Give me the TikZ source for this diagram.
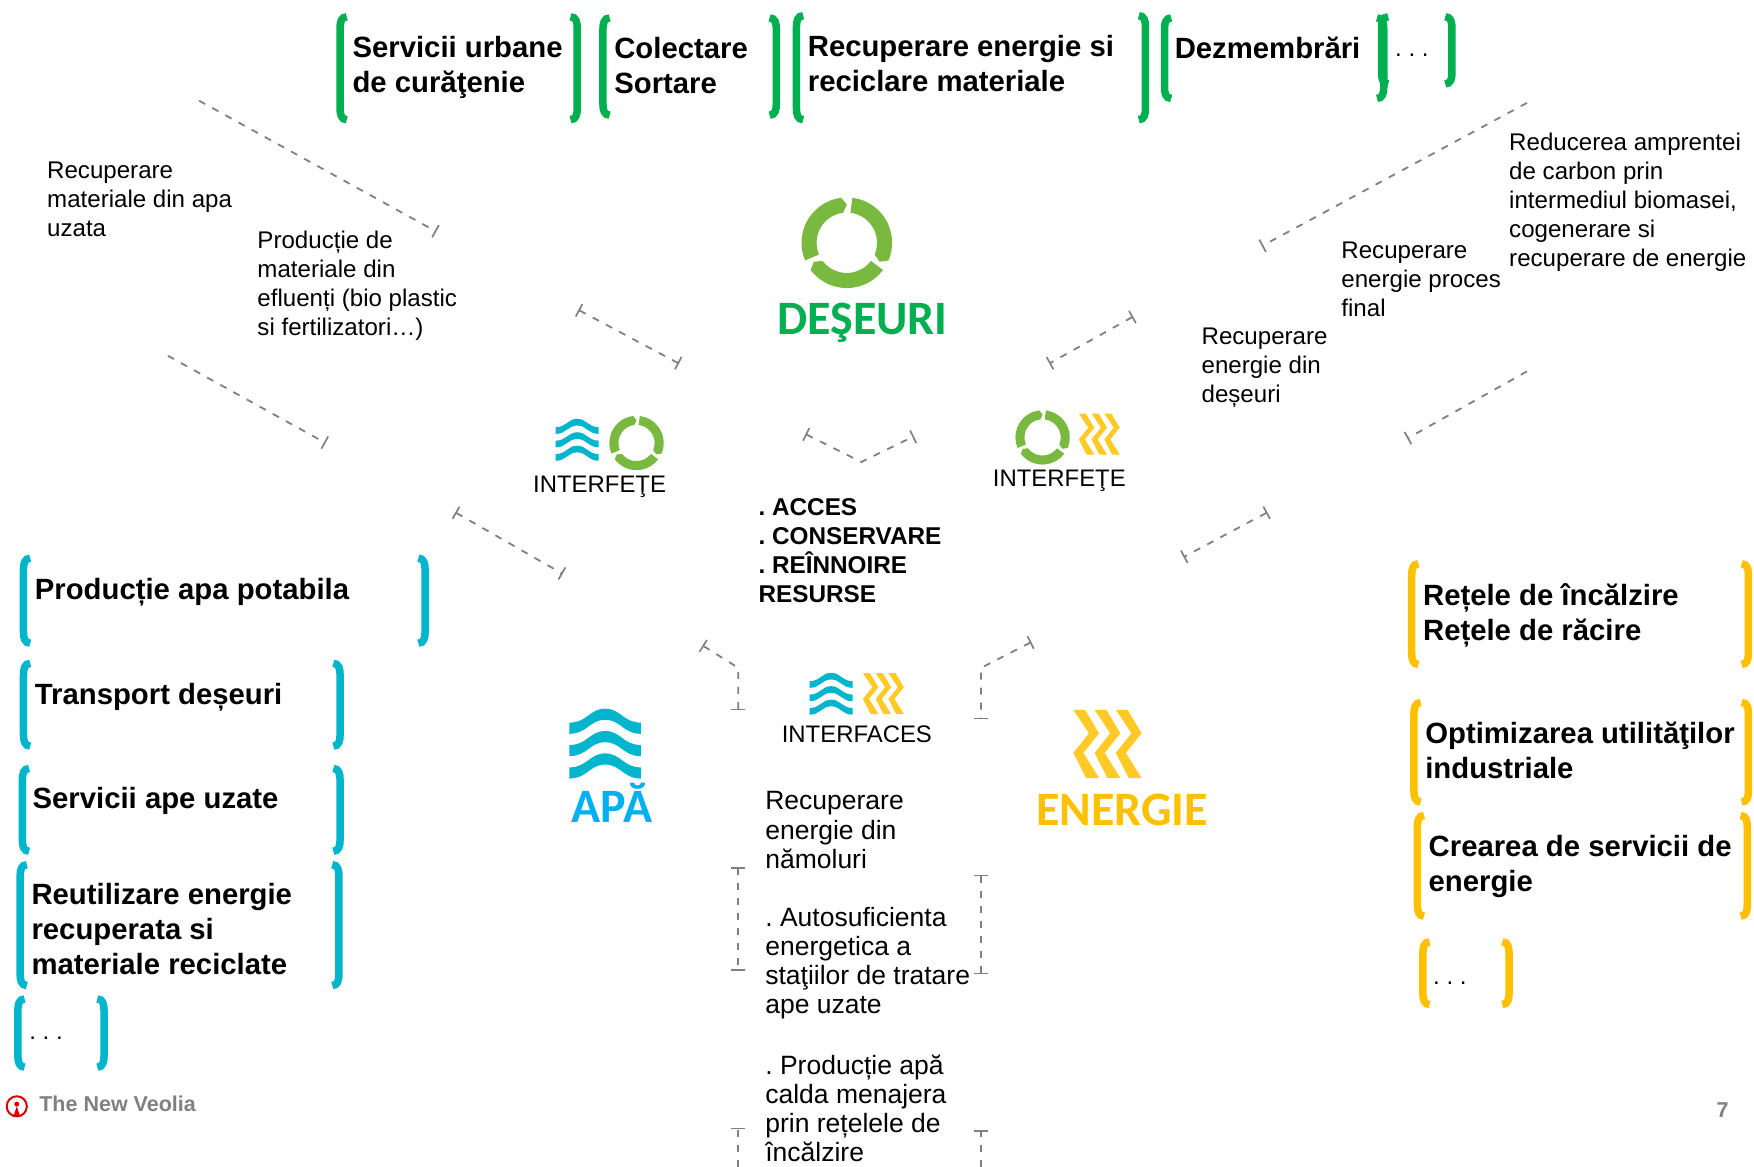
\documentclass[tikz,border=0pt]{standalone}
\usepackage{fontspec}
\setmainfont{Liberation Sans}
\newfontfamily\logofont{Carlito}
\usepackage{xcolor}
\usepackage{tikz}
\usetikzlibrary{arrows.meta, positioning}

\definecolor{deseugreen}{HTML}{00B050}
\definecolor{leafgreen}{HTML}{7AB93F}
\definecolor{waterteal}{HTML}{00B5CC}
\definecolor{waterblue}{HTML}{00B0F0}
\definecolor{energyyellow}{HTML}{FFC000}
\definecolor{chevronyellow}{HTML}{FFC926}

\tikzset{
    recycle/.pic={
        \begin{scope}[x=1.1186pt, y=1.1186pt]
            \foreach \a in {0,120,240} {
                \fill[leafgreen, rotate=\a] (97:40.5) arc (97:203:40.5) -- (203:27) arc (203:97:27) -- (90:34) -- cycle;
            }
        \end{scope}
    },
    waves/.pic={
        \begin{scope}[x=1.1186pt, y=1.1186pt]
            \foreach \o in {18.5,-1.5,-21.5} {
                \fill[waterteal] (-32,\o) .. controls (-16,\o) and (-14,\o+12.5) .. (0,\o+12.5) .. controls (14,\o+12.5) and (16,\o) .. (32,\o) -- (32,\o-10) .. controls (16,\o-10) and (14,\o+2.5) .. (0,\o+2.5) .. controls (-14,\o+2.5) and (-16,\o-10) .. (-32,\o-10) -- cycle;
            }
        \end{scope}
    },
    chevrons/.pic={
        \begin{scope}[x=1.1186pt, y=1.1186pt]
            \foreach \c in {-31,-12,7} {
                \fill[chevronyellow] (\c,30.5) -- (\c+10.5,30.5) -- (\c+23,9.5) -- (\c+9,-8) -- (\c+23,-30.5) -- (\c+11.5,-30.5) -- (\c,-8) -- (\c+14,9.5) -- cycle;
            }
        \end{scope}
    }
}

% colour, left x, top y, right x, bottom y
\newcommand{\bracketpair}[5]{
    \draw[bracket, #1] ({#2+10},{#3+3}) .. controls ({#2+5},{#3+3}) and ({#2+4},{#3+8}) .. ({#2+4},{#3+13}) -- ({#2+4},{#5-13}) .. controls ({#2+4},{#5-8}) and ({#2+5},{#5-3}) .. ({#2+10},{#5-3});
    \draw[bracket, #1] ({#4-10},{#3+3}) .. controls ({#4-5},{#3+3}) and ({#4-4},{#3+8}) .. ({#4-4},{#3+13}) -- ({#4-4},{#5-13}) .. controls ({#4-4},{#5-8}) and ({#4-5},{#5-3}) .. ({#4-10},{#5-3});
}

\frenchspacing
\begin{document}
\begin{tikzpicture}[
    x=1.1186pt, y=-1.1186pt,
    bracket/.style={line width=7.5pt},
    head/.style={anchor=west, inner sep=0pt, align=left, font=\fontsize{29.3}{34.7}\selectfont\bfseries},
    plain/.style={anchor=west, inner sep=0pt, align=left, font=\fontsize{24.1}{29}\selectfont},
    middle/.style={anchor=west, inner sep=0pt, align=left, font=\fontsize{26.5}{29.1}\selectfont},
    iface/.style={inner sep=0pt, font=\fontsize{23.9}{29}\selectfont},
    logo/.style={inner sep=0pt, font=\fontsize{48}{52}\selectfont\logofont\bfseries},
    link/.style={dash pattern=on 7pt off 8pt, draw=gray, line width=1.8pt},
    both/.style={link, {Bar[width=14pt, line width=1.7pt]}-{Bar[width=14pt, line width=1.7pt]}},
    onecap/.style={link, -{Bar[width=14pt, line width=1.7pt]}}
]
    \useasboundingbox (0,0) rectangle (1568,1043);

    % Top row
    \bracketpair{deseugreen}{300}{12}{520}{110}
    \bracketpair{deseugreen}{535}{13}{698}{106}
    \bracketpair{deseugreen}{708}{11}{1028}{110}
    \bracketpair{deseugreen}{1037}{13}{1241}{91}
    \bracketpair{deseugreen}{1231}{12}{1302}{78}
    \node[head] (urbane) at (315, 60.5) {Servicii urbane\\de curăţenie};
    \node[head] (colectare) at (549, 58.5) {Colectare\\Sortare};
    \node[head] (recuperare) at (722, 56.5) {Recuperare energie si\\reciclare materiale};
    \node[head] (dezmembrari) at (1050, 43) {Dezmembrări};
    \node[plain] (topdots) at (1247, 49.5) {. . .};

    % Left column
    \bracketpair{waterteal}{17}{496}{384}{578}
    \bracketpair{waterteal}{17}{590}{308}{670}
    \bracketpair{waterteal}{16}{684}{308}{764}
    \bracketpair{waterteal}{14}{770}{307}{884}
    \bracketpair{waterteal}{12}{890}{97}{957}
    \node[head] (potabila) at (31, 529.5) {Producție apa potabila};
    \node[head] (transport) at (31, 623) {Transport deșeuri};
    \node[head] (uzate) at (29, 716) {Servicii ape uzate};
    \node[head] (reutilizare) at (28, 830.5) {Reutilizare energie\\recuperata si\\materiale reciclate};
    \node[plain] (leftdots) at (26, 928) {. . .};

    % Right column
    \bracketpair{energyyellow}{1258}{501}{1567}{597}
    \bracketpair{energyyellow}{1260}{625}{1567}{720}
    \bracketpair{energyyellow}{1263}{726}{1566}{822}
    \bracketpair{energyyellow}{1268}{839}{1353}{901}
    \node[head] (retele) at (1272, 550) {Rețele de încălzire\\Rețele de răcire};
    \node[head] (optimizarea) at (1274, 670.5) {Optimizarea utilităţilor\\industriale};
    \node[head] (crearea) at (1277, 774.5) {Crearea de servicii de\\energie};
    \node[plain] (rightdots) at (1281, 878.5) {. . .};

    % Free text
    \node[plain] (apauzata) at (42, 178) {Recuperare\\materiale din apa\\uzata};
    \node[plain] (efluenti) at (230, 255.5) {Producție de\\materiale din\\efluenți (bio plastic\\si fertilizatori…)};
    \node[plain] (carbon) at (1349, 181) {Reducerea amprentei\\de carbon prin\\intermediul biomasei,\\cogenerare si\\recuperare de energie};
    \node[plain] (proces) at (1199, 250) {Recuperare\\energie proces\\final};
    \node[plain] (dindeseuri) at (1074, 329) {Recuperare\\energie din\\deșeuri};
    \node[middle] (namoluri) at (684, 742) {Recuperare\\energie din\\nămoluri};
    \node[middle] (autosuf) at (684, 861) {. Autosuficienta\\energetica a\\staţiilor de tratare\\ape uzate};
    \node[middle] (menajera) at (684, 990.5) {. Producție apă\\calda menajera\\prin rețelele de\\încălzire};
    \node[head, font=\fontsize{24.3}{29.1}\selectfont\bfseries] (acces) at (678, 492) {. ACCES\\. CONSERVARE\\. REÎNNOIRE\\RESURSE};

    % Icons and titles
    \pic at (757, 217) {recycle};
    \node[logo, text=deseugreen] (deseuri) at (771, 289) {DEŞEURI};
    \pic at (541, 664.5) {waves};
    \node[logo, text=waterblue] (apa) at (547, 718) {APĂ};
    \pic at (990.5, 665) {chevrons};
    \node[logo, text=energyyellow] (energie) at (1003, 724) {ENERGIE};

    % Interfaces
    \pic[scale=0.6] at (516, 393) {waves};
    \pic[scale=0.6] at (569, 396) {recycle};
    \node[iface] (ifleft) at (536, 435) {INTERFEŢE};
    \pic[scale=0.6] at (932, 391) {recycle};
    \pic[scale=0.6] at (983, 388) {chevrons};
    \node[iface] (ifright) at (947, 430) {INTERFEŢE};
    \pic[scale=0.6] at (743, 620) {waves};
    \pic[scale=0.6] at (790, 620) {chevrons};
    \node[iface] (ifbottom) at (766, 656) {INTERFACES};

    % Footer
    \node[anchor=west, inner sep=0pt, text=gray, font=\fontsize{21.5}{25}\selectfont\bfseries] (veolia) at (35, 987) {The New Veolia};
    \node[inner sep=0pt, text=gray, font=\fontsize{21.5}{25}\selectfont\bfseries] (pagenum) at (1540, 992) {7};
    \draw[red!85!black, line width=2pt] (15, 989) circle (9);
    \fill[red!85!black] (15, 987) circle (2.2);
    \fill[red!85!black] (15, 989) -- (12, 998) -- (18, 998) -- cycle;

    % Link ends
    \coordinate (tl1a) at (178, 90);    \coordinate (tl1b) at (390, 207);
    \coordinate (tl2a) at (150, 318);   \coordinate (tl2b) at (291, 396);
    \coordinate (tl3a) at (517, 277);   \coordinate (tl3b) at (607, 325);
    \coordinate (tl4a) at (407, 458);   \coordinate (tl4b) at (503, 513);
    \coordinate (tr1a) at (1365, 92);   \coordinate (tr1b) at (1128, 220);
    \coordinate (tr2a) at (1365, 332);  \coordinate (tr2b) at (1258, 392);
    \coordinate (tr3a) at (1013, 283);  \coordinate (tr3b) at (938, 325);
    \coordinate (tr4a) at (1133, 458);  \coordinate (tr4b) at (1058, 498);
    \coordinate (va) at (720, 388);     \coordinate (vm) at (770, 413);     \coordinate (vb) at (817, 390);
    \coordinate (bla) at (628, 577);    \coordinate (blm) at (660, 597);    \coordinate (blb) at (660, 635);
    \coordinate (bra) at (922, 574);    \coordinate (brm) at (877, 597);    \coordinate (brb) at (877, 643);
    \coordinate (sl1a) at (660, 775);   \coordinate (sl1b) at (660, 868);
    \coordinate (sr1a) at (877, 782);   \coordinate (sr1b) at (877, 871);
    \coordinate (sl2a) at (660, 1043);  \coordinate (sl2b) at (660, 1008);
    \coordinate (sr2a) at (877, 1043);  \coordinate (sr2b) at (877, 1010);

    % Links
    \draw[onecap] (tl1a) -- (tl1b);
    \draw[onecap] (tl2a) -- (tl2b);
    \draw[both] (tl3a) -- (tl3b);
    \draw[both] (tl4a) -- (tl4b);
    \draw[onecap] (tr1a) -- (tr1b);
    \draw[onecap] (tr2a) -- (tr2b);
    \draw[both] (tr3a) -- (tr3b);
    \draw[both] (tr4a) -- (tr4b);
    \draw[both] (va) -- (vm) -- (vb);
    \draw[both] (bla) -- (blm) -- (blb);
    \draw[both] (bra) -- (brm) -- (brb);
    \draw[both] (sl1a) -- (sl1b);
    \draw[both] (sr1a) -- (sr1b);
    \draw[onecap] (sl2a) -- (sl2b);
    \draw[onecap] (sr2a) -- (sr2b);
\end{tikzpicture}
\end{document}
